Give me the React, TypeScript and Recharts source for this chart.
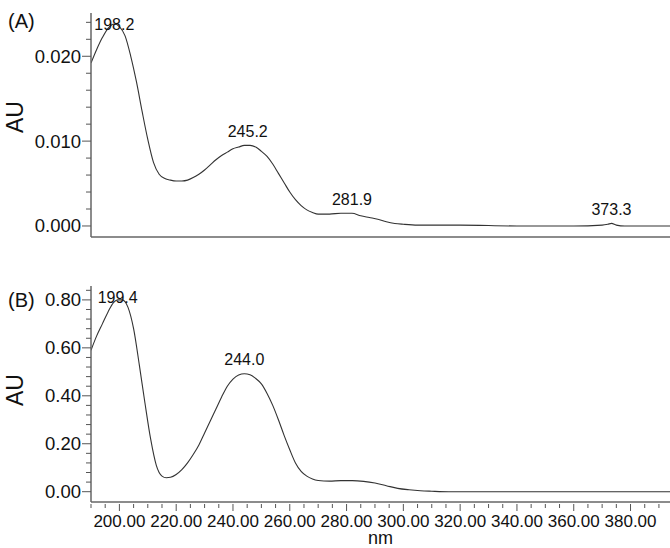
import { LineChart, Line, XAxis, YAxis, ReferenceDot } from "recharts";

// Panel A spectrum (wavelength in nm, absorbance in AU)
const wavelengthsA = [
  190, 192, 194, 196, 198.2, 200, 202, 204, 206, 208, 210, 212, 214, 216, 218,
  220, 222, 224, 226, 228, 230, 232, 234, 236, 238, 240, 242, 244, 245.2, 246,
  248, 250, 252, 254, 256, 258, 260, 262, 264, 266, 268, 270, 274, 278, 281.9,
  285, 288, 291, 294, 297, 300, 305, 310, 320, 340, 360, 370, 372, 373.3, 375,
  378, 385, 394,
];
const absorbanceA = [
  0.0192, 0.0208, 0.0222, 0.0233, 0.0238, 0.0235, 0.0224, 0.02, 0.017, 0.0135,
  0.0102, 0.0075, 0.0061, 0.0056, 0.0054, 0.0053, 0.0053, 0.0054, 0.0057, 0.0061,
  0.0066, 0.0072, 0.0078, 0.0083, 0.0087, 0.0091, 0.0093, 0.0095, 0.0095, 0.0095,
  0.0093, 0.0088, 0.0082, 0.0073, 0.0062, 0.0051, 0.004, 0.0031, 0.0024, 0.0019,
  0.0016, 0.0014, 0.0014, 0.0015, 0.0015, 0.0012, 0.001, 0.0008, 0.0005, 0.0003,
  0.0002, 0.0001, 0.0001, 0.0001, 0.0, 0.0, 0.0001, 0.0002, 0.0003, 0.0001, 0.0,
  0.0, 0.0,
];
const peaksA = [198.2, 245.2, 281.9, 373.3];
const peakHeightsA = [0.0238, 0.0095, 0.0015, 0.0003];

// Panel B spectrum
const wavelengthsB = [
  190, 192, 194, 196, 198, 199.4, 201, 203, 205, 207, 209, 211, 213, 215, 216.5,
  218, 220, 222, 224, 226, 228, 230, 232, 234, 236, 238, 240, 242, 244, 246, 248,
  250, 252, 254, 256, 258, 260, 262, 264, 266, 268, 270, 274, 278, 282, 286, 290,
  294, 298, 302, 306, 310, 316, 340, 370, 394,
];
const absorbanceB = [
  0.59, 0.65, 0.7, 0.75, 0.79, 0.8, 0.8, 0.77, 0.68, 0.53, 0.37, 0.22, 0.11,
  0.065, 0.058, 0.06, 0.072, 0.092, 0.12, 0.155, 0.195, 0.245, 0.295, 0.345, 0.395,
  0.44, 0.47, 0.487, 0.492, 0.488, 0.472, 0.45, 0.41, 0.36, 0.3, 0.235, 0.175,
  0.12, 0.085, 0.065, 0.053, 0.047, 0.044, 0.046, 0.046, 0.043, 0.036, 0.025,
  0.014, 0.008, 0.004, 0.002, 0.0, 0.0, 0.0, 0.0,
];
const peaksB = [199.4, 244.0];
const peakHeightsB = [0.8, 0.492];

// axis ticks
const xTicks = Array.from({ length: 41 }, (_, i) => 190 + i * 5);
const yTicksA = Array.from({ length: 13 }, (_, i) => +(i * 0.002).toFixed(3));
const yTicksB = Array.from({ length: 22 }, (_, i) => +(i * 0.04).toFixed(2));

const dataA = wavelengthsA.map((nm, i) => ({ nm, au: absorbanceA[i] }));
const dataB = wavelengthsB.map((nm, i) => ({ nm, au: absorbanceB[i] }));

const FONT = "'Liberation Sans', Arial, sans-serif";
const INK = "#333";
const X_DOMAIN: [number, number] = [190, 393.9];
const PLOT_TOP = 13;

const isMajor = (v: number, step: number) =>
  Math.abs(v / step - Math.round(v / step)) < 1e-6;

function makeYTick(step: number, digits: number) {
  return (props: any) => {
    const { x, y, payload } = props;
    const major = isMajor(payload.value, step);
    return (
      <g>
        <line x1={x - (major ? 9 : 5)} x2={x} y1={y} y2={y} stroke="#555" />
        {major && (
          <text x={x - 10} y={y} dy={6.5} textAnchor="end" fontSize={18.5} fill="#111" fontFamily={FONT}>
            {payload.value.toFixed(digits)}
          </text>
        )}
      </g>
    );
  };
}

function XTick(props: any) {
  const { x, y, payload } = props;
  const major = isMajor(payload.value, 20);
  return (
    <g>
      <line x1={x} x2={x} y1={y + 2} y2={y + (major ? 9 : 6)} stroke="#555" />
      {major && payload.value > 190 && (
        <text x={x} y={y + 25} textAnchor="middle" fontSize={17} fill="#111" fontFamily={FONT}>
          {payload.value.toFixed(2)}
        </text>
      )}
    </g>
  );
}

function PeakLabel(props: any) {
  const { viewBox, value } = props;
  const cy = Math.max(viewBox.y - 14, PLOT_TOP + 11);
  return (
    <text x={viewBox.x} y={cy} dy={5.5} textAnchor="middle" fontSize={16} fill="#111" fontFamily={FONT}>
      {value}
    </text>
  );
}

function PanelLabel({ text, top }: { text: string; top: number }) {
  return (
    <div style={{ position: "absolute", left: 8, top, fontFamily: FONT, fontSize: 20, color: "#111", lineHeight: "22px" }}>
      {text}
    </div>
  );
}

export default function App() {
  return (
    <div style={{ position: "absolute", left: 0, top: 0, width: 670, height: 548, background: "#fff", overflow: "hidden" }}>
      <div style={{ position: "absolute", left: 0, top: 0 }}>
        <LineChart width={670} height={250} data={dataA} margin={{ top: PLOT_TOP, right: 0, left: 0, bottom: 0 }}>
          <XAxis dataKey="nm" type="number" domain={X_DOMAIN} allowDataOverflow height={13} tick={false} tickLine={false} axisLine={{ stroke: "#666", strokeWidth: 1.5 }} />
          <XAxis xAxisId="top" orientation="top" dataKey="nm" type="number" domain={X_DOMAIN} allowDataOverflow height={0} tick={false} tickLine={false} axisLine={{ stroke: "#111", strokeWidth: 2 }} />
          <YAxis
            type="number"
            domain={[-0.0013, 0.0251]}
            allowDataOverflow
            ticks={yTicksA}
            interval={0}
            width={91}
            tickSize={0}
            tickMargin={0}
            tickLine={false}
            tick={makeYTick(0.01, 3)}
            axisLine={{ stroke: "#666", strokeWidth: 1.5 }}
            label={{ value: "AU", angle: -90, position: "insideLeft", offset: 15, dy: -8, style: { fontSize: 23, fill: "#111", fontFamily: FONT, textAnchor: "middle" } }}
          />
          <Line dataKey="au" type="monotone" stroke={INK} strokeWidth={1.1} dot={false} isAnimationActive={false} />
          {peaksA.map((p, i) => (
            <ReferenceDot key={p} x={p} y={peakHeightsA[i]} r={0} stroke="none" label={<PeakLabel value={p.toFixed(1)} />} />
          ))}
        </LineChart>
      </div>
      <PanelLabel text="(A)" top={10} />

      <div style={{ position: "absolute", left: 0, top: 273 }}>
        <LineChart width={670} height={275} data={dataB} margin={{ top: PLOT_TOP, right: 0, left: 0, bottom: 0 }}>
          <XAxis
            dataKey="nm"
            type="number"
            domain={X_DOMAIN}
            allowDataOverflow
            ticks={xTicks}
            interval={0}
            height={46}
            tickSize={0}
            tickMargin={0}
            tickLine={false}
            tick={XTick}
            axisLine={{ stroke: "#666", strokeWidth: 1.5 }}
            label={{ value: "nm", position: "insideBottom", offset: 4, style: { fontSize: 18, fill: "#111", fontFamily: FONT } }}
          />
          <XAxis xAxisId="top" orientation="top" dataKey="nm" type="number" domain={X_DOMAIN} allowDataOverflow height={0} tick={false} tickLine={false} axisLine={{ stroke: "#777", strokeWidth: 1 }} />
          <YAxis
            type="number"
            domain={[-0.043, 0.858]}
            allowDataOverflow
            ticks={yTicksB}
            interval={0}
            width={91}
            tickSize={0}
            tickMargin={0}
            tickLine={false}
            tick={makeYTick(0.2, 2)}
            axisLine={{ stroke: "#666", strokeWidth: 1.5 }}
            label={{ value: "AU", angle: -90, position: "insideLeft", offset: 15, dy: -4, style: { fontSize: 23, fill: "#111", fontFamily: FONT, textAnchor: "middle" } }}
          />
          <Line dataKey="au" type="monotone" stroke={INK} strokeWidth={1.1} dot={false} isAnimationActive={false} />
          {peaksB.map((p, i) => (
            <ReferenceDot key={p} x={p} y={peakHeightsB[i]} r={0} stroke="none" label={<PeakLabel value={p.toFixed(1)} />} />
          ))}
        </LineChart>
      </div>
      <PanelLabel text="(B)" top={289} />
    </div>
  );
}
